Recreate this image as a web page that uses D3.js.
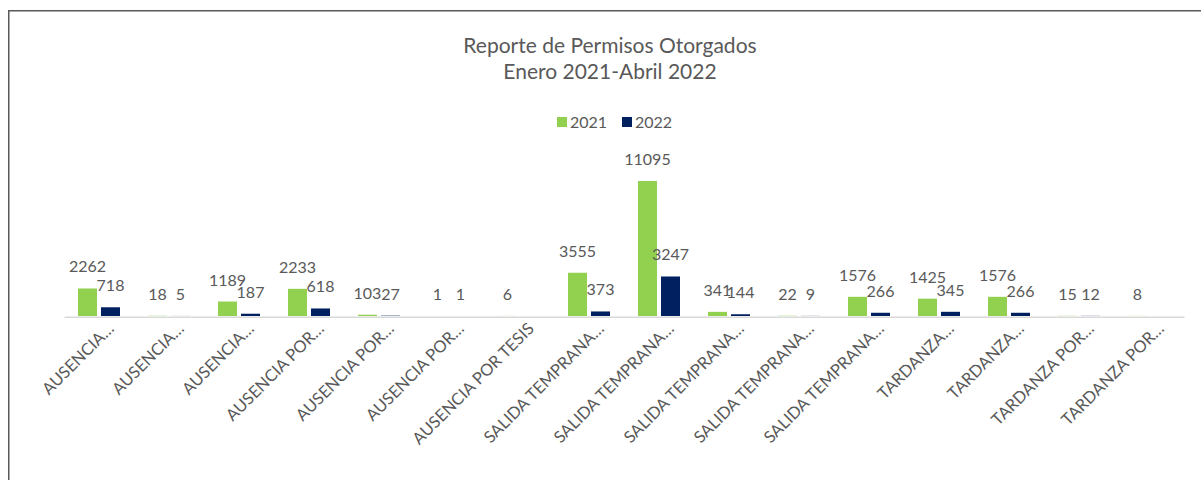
<!DOCTYPE html>
<html>
<head>
<meta charset="utf-8">
<script src="https://cdn.jsdelivr.net/npm/d3@7"></script>
<style>
  html, body { margin: 0; padding: 0; background: #fff; }
  svg { display: block; }
  text { font-family: Lato, "Open Sans", sans-serif; fill: #595959; }
</style>
</head>
<body>
<svg id="chart" width="1201" height="480"></svg>
<script>
// ---- data ----
const categories = [
  "AUSENCIA…", "AUSENCIA…", "AUSENCIA…", "AUSENCIA POR…", "AUSENCIA POR…",
  "AUSENCIA POR…", "AUSENCIA POR TESIS", "SALIDA TEMPRANA…", "SALIDA TEMPRANA…",
  "SALIDA TEMPRANA…", "SALIDA TEMPRANA…", "SALIDA TEMPRANA…", "TARDANZA…",
  "TARDANZA…", "TARDANZA POR…", "TARDANZA POR…"
];
const values2021 = [2262, 18, 1189, 2233, 103, 1, 6, 3555, 11095, 341, 22, 1576, 1425, 1576, 15, 8];
const values2022 = [718, 5, 187, 618, 27, 1, null, 373, 3247, 144, 9, 266, 345, 266, 12, null];
const seriesNames = ["2021", "2022"];
const seriesColors = ["#92D050", "#002060"];
const titleLines = ["Reporte de Permisos Otorgados", "Enero 2021-Abril 2022"];

// ---- layout ----
const svg = d3.select("#chart");
svg.append("rect").attr("x", 0).attr("y", 0).attr("width", 1201).attr("height", 480).attr("fill", "#fff");
svg.append("rect")
  .attr("x", 8.75).attr("y", 10.75).attr("width", 1220).attr("height", 500)
  .attr("fill", "none").attr("stroke", "#595959").attr("stroke-width", 1.5);

const x0 = d3.scaleBand().domain(d3.range(categories.length)).range([64, 1184]).paddingInner(0).paddingOuter(0);
const x1 = d3.scaleBand().domain(seriesNames)
  .range([x0.bandwidth() * 0.2, x0.bandwidth() * 0.8]).paddingInner(0.174).paddingOuter(0);
const y = d3.scaleLinear().domain([0, 12000]).range([316, 170]);

// title
svg.append("g").selectAll("text").data(titleLines).join("text")
  .attr("x", 610).attr("y", (d, i) => 53 + i * 26)
  .attr("text-anchor", "middle").style("font-size", "21px")
  .text(d => d);

// legend
const legend = svg.append("g").selectAll("g").data(seriesNames).join("g")
  .attr("transform", (d, i) => `translate(${557 + i * 65},117)`);
legend.append("rect").attr("width", 10).attr("height", 10).attr("fill", (d, i) => seriesColors[i]);
legend.append("text").attr("x", 13).attr("y", 10.5).style("font-size", "16px").text(d => d);

// x axis
const xAxis = d3.axisBottom(x0).tickSize(0).tickSizeOuter(0).tickFormat(i => categories[i]);
const gx = svg.append("g").attr("transform", "translate(0,316.75)").call(xAxis);
gx.select(".domain").attr("stroke", "#d9d9d9").attr("stroke-width", 1.5);
gx.selectAll(".tick text")
  .attr("text-anchor", "end")
  .attr("transform", "translate(16,13) rotate(-45)")
  .attr("x", 0).attr("y", 0).attr("dy", 0)
  .style("font-size", "16.5px").style("font-family", "Lato, sans-serif").attr("fill", "#595959");

// bars
const series = [values2021, values2022];
const groups = svg.append("g").selectAll("g").data(categories).join("g")
  .attr("transform", (d, i) => `translate(${x0(i)},0)`);
groups.each(function(d, i) {
  const g = d3.select(this);
  const data = seriesNames.map((s, k) => ({ s, k, v: series[k][i] })).filter(o => o.v != null);
  g.selectAll("rect").data(data).join("rect")
    .attr("x", o => x1(o.s)).attr("width", x1.bandwidth())
    .attr("y", o => y(o.v)).attr("height", o => y(0) - y(o.v))
    .attr("fill", o => seriesColors[o.k]);
  g.selectAll("text").data(data).join("text")
    .attr("x", o => x1(o.s) + x1.bandwidth() / 2)
    .attr("y", o => y(o.v) - 16)
    .attr("text-anchor", "middle").style("font-size", "16px")
    .text(o => o.v);
});
</script>
</body>
</html>
